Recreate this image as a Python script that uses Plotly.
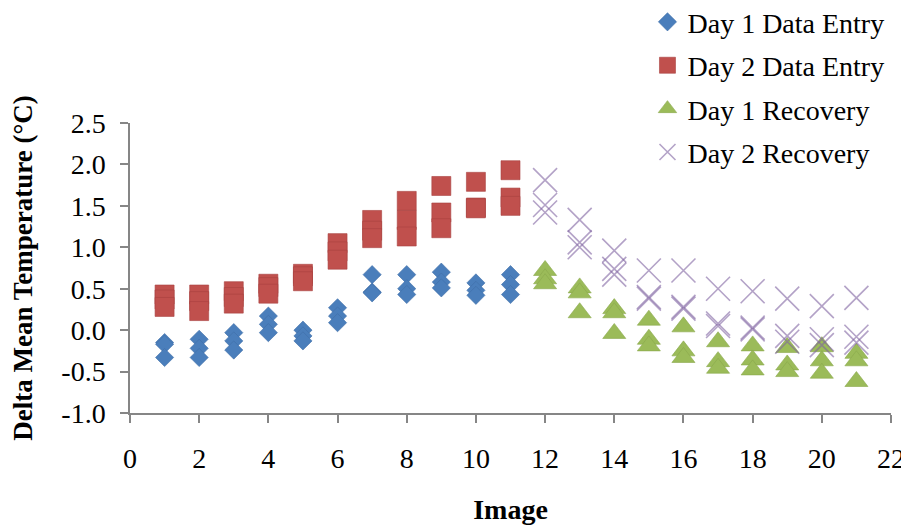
import plotly.graph_objects as go

# ---- data ----
entry_images = [1, 2, 3, 4, 5, 6, 7, 8, 9, 10, 11]
recovery_images = [12, 13, 14, 15, 16, 17, 18, 19, 20, 21]

day1_entry_a = [-0.15, -0.11, -0.03, 0.17, 0.00, 0.27, 0.67, 0.67, 0.70, 0.57, 0.67]
day1_entry_b = [-0.17, -0.22, -0.13, 0.07, -0.07, 0.17, 0.46, 0.50, 0.58, 0.48, 0.55]
day1_entry_c = [-0.33, -0.33, -0.24, -0.03, -0.13, 0.09, 0.45, 0.43, 0.51, 0.42, 0.43]

day2_entry_a = [0.43, 0.43, 0.47, 0.56, 0.68, 1.05, 1.33, 1.56, 1.74, 1.79, 1.93]
day2_entry_b = [0.37, 0.35, 0.40, 0.52, 0.65, 0.95, 1.20, 1.33, 1.42, 1.48, 1.60]
day2_entry_c = [0.28, 0.23, 0.32, 0.44, 0.59, 0.85, 1.11, 1.13, 1.23, 1.47, 1.50]

day1_recovery_a = [0.72, 0.51, 0.26, 0.12, 0.04, -0.14, -0.19, -0.21, -0.20, -0.28]
day1_recovery_b = [0.62, 0.45, 0.21, -0.11, -0.25, -0.38, -0.36, -0.42, -0.37, -0.37]
day1_recovery_c = [0.56, 0.21, -0.04, -0.19, -0.33, -0.46, -0.48, -0.50, -0.52, -0.62]

day2_recovery_a = [1.81, 1.33, 0.96, 0.72, 0.72, 0.50, 0.47, 0.38, 0.29, 0.39]
day2_recovery_b = [1.51, 1.06, 0.74, 0.40, 0.28, 0.08, 0.03, -0.07, -0.11, -0.08]
day2_recovery_c = [1.42, 1.00, 0.67, 0.38, 0.26, 0.05, 0.01, -0.14, -0.18, -0.15]

x_tickvals = [0, 2, 4, 6, 8, 10, 12, 14, 16, 18, 20, 22]
x_ticktext = ["0", "2", "4", "6", "8", "10", "12", "14", "16", "18", "20", "22"]
y_tickvals = [-1.0, -0.5, 0.0, 0.5, 1.0, 1.5, 2.0, 2.5]
y_ticktext = ["-1.0", "-0.5", "0.0", "0.5", "1.0", "1.5", "2.0", "2.5"]

FONT = "Liberation Serif"
AXIS_GREY = "#868686"

def stack(images, *series):
    xs, ys = [], []
    for s in series:
        xs += images
        ys += s
    return xs, ys

fig = go.Figure()

x, y = stack(entry_images, day1_entry_a, day1_entry_b, day1_entry_c)
fig.add_trace(go.Scatter(
    x=x, y=y, mode="markers", name="Day 1 Data Entry", legendgroup="g1",
    marker=dict(symbol="diamond", size=14, color="#4A7EBB",
                line=dict(width=0.6, color="#3F6FA8")),
))

x, y = stack(entry_images, day2_entry_a, day2_entry_b, day2_entry_c)
fig.add_trace(go.Scatter(
    x=x, y=y, mode="markers", name="Day 2 Data Entry", legendgroup="g2",
    marker=dict(symbol="square", size=19, color="#C0504D",
                line=dict(width=0.6, color="#A8423F")),
))

x, y = stack(recovery_images, day1_recovery_a, day1_recovery_b, day1_recovery_c)
fig.add_trace(go.Scatter(
    x=x, y=y, mode="markers", name="Day 1 Recovery", legendgroup="g3",
    marker=dict(symbol="triangle-up", size=20, color="#9BBB59",
                line=dict(width=0.6, color="#8AA84C")),
))

x, y = stack(recovery_images, day2_recovery_a, day2_recovery_b, day2_recovery_c)
fig.add_trace(go.Scatter(
    x=x, y=y, mode="markers", name="Day 2 Recovery", legendgroup="g4",
    marker=dict(symbol="x-thin", size=24,
                line=dict(width=1.6, color="rgba(128,100,162,0.6)")),
))

fig.update_layout(
    width=901, height=517,
    margin=dict(l=122, r=18, t=115, b=112, autoexpand=False),
    paper_bgcolor="white", plot_bgcolor="white",
    font=dict(family=FONT, size=28, color="black"),
    showlegend=True,
    legend=dict(
        x=0.68, y=1.434, xanchor="left", yanchor="top",
        font=dict(family=FONT, size=28, color="black"),
        bgcolor="rgba(0,0,0,0)", borderwidth=0,
        tracegroupgap=4, itemsizing="trace",
    ),
    xaxis=dict(
        range=[0, 22], tickmode="array", tickvals=x_tickvals, ticktext=x_ticktext,
        showgrid=False, zeroline=False, showline=True, linecolor=AXIS_GREY, linewidth=1.5,
        ticks="outside", ticklen=8, tickcolor=AXIS_GREY, tickwidth=1.5,
        ticklabelstandoff=12,
        tickfont=dict(family=FONT, size=28, color="black"),
        title=dict(text="<b>Image</b>", font=dict(family=FONT, size=28, color="black"), standoff=30),
        automargin=False,
    ),
    yaxis=dict(
        range=[-1.0, 2.5], tickmode="array", tickvals=y_tickvals, ticktext=y_ticktext,
        showgrid=False, zeroline=False, showline=True, linecolor=AXIS_GREY, linewidth=1.5,
        ticks="outside", ticklen=8, tickcolor=AXIS_GREY, tickwidth=1.5,
        ticklabelstandoff=9,
        tickfont=dict(family=FONT, size=28, color="black"),
        title=dict(text="<b>Delta Mean Temperature (°C)</b>", font=dict(family=FONT, size=27, color="black"), standoff=25),
        automargin=False,
    ),
)

fig.write_html("out.html")
